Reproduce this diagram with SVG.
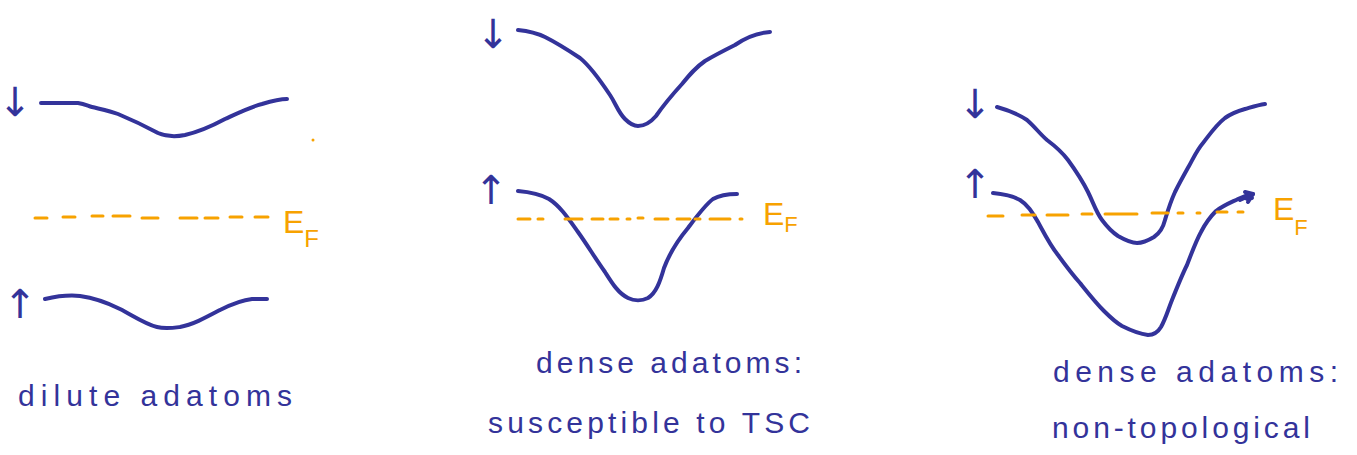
<svg xmlns="http://www.w3.org/2000/svg" width="1357" height="455" viewBox="0 0 1357 455">
<style>
.band{fill:none;stroke:#33339a;stroke-width:4;stroke-linecap:round;stroke-linejoin:round}
.ef{fill:none;stroke:#f7a200;stroke-width:3;stroke-linecap:round}
.eft{font-family:"Liberation Sans",Arial,sans-serif;fill:#f7a200;font-size:32px}
.spin{font-family:"DejaVu Sans",sans-serif;fill:#33339a;font-size:40px;text-anchor:middle}
.lbl{font-family:"Liberation Sans",Arial,sans-serif;fill:#33339a;font-size:30px}
</style>
<rect width="1357" height="455" fill="#fff"/>
<g id="panel-dilute">
<text class="spin" x="15" y="116">↓</text>
<path class="band" d="M41,103 L78,103 C85,104 88,106 92,107 C100,109 110,111 118,114 C130,119 145,126 158,133 C165,136 175,137 185,135 C198,132 212,126 225,119 C238,113 250,107 262,104 C272,101 280,99 287,99"/>
<circle cx="313" cy="140" r="1.5" fill="#f7a200"/>
<path class="ef" d="M35,218 L47,218 M63,217 L75,217 M92,216 L103,216 M113,216 L130,216 M142,218 L158,218 M180,218 L197,218 M205,218 L218,218 M230,217 L242,217 M255,217 L268,217"/>
<text class="eft" x="283" y="233">E<tspan font-size="24" dy="14">F</tspan></text>
<text class="spin" x="20" y="318">↑</text>
<path class="band" d="M45,299 C58,296 70,295 80,296 C95,298 108,303 120,309 C132,315 145,324 157,327 C165,329 172,328 180,327 C192,325 205,318 220,310 C232,304 242,300 252,299 L267,299"/>
<text class="lbl" x="18" y="406" textLength="274" lengthAdjust="spacing">dilute adatoms</text>
</g>
<g id="panel-tsc">
<text class="spin" x="493" y="48">↓</text>
<path class="band" d="M518,30 C528,31 537,33 545,37 C555,42 568,50 580,58 C590,66 600,80 610,95 C616,104 618,112 625,119 C630,124 634,126 638,126 C645,126 650,123 656,116 C665,103 672,95 682,84 C690,74 695,68 705,61 C715,55 725,50 735,45 C745,38 755,33 770,32"/>
<text class="spin" x="491" y="204">↑</text>
<path class="band" d="M518,191 C530,192 540,194 549,199 C560,206 568,218 578,232 C588,246 595,258 605,272 C612,283 618,293 628,298 C634,301 642,301 648,298 C656,293 660,282 664,268 C670,252 678,240 688,228 C697,216 705,205 713,199 C720,195 728,194 737,194"/>
<path class="ef" d="M518,219 L530,219 M538,219 L543,219 M565,219 L582,219 M592,219 L603,219 M610,219 L618,219 M627,219 L630,219 M638,218 L643,218 M655,219 L668,219 M677,219 L690,219 M695,219 L700,219 M710,219 L730,219 M740,219 L742,219"/>
<text class="eft" x="763" y="225">E<tspan font-size="22" dy="7">F</tspan></text>
<text class="lbl" x="536" y="373" textLength="266" lengthAdjust="spacing">dense adatoms:</text>
<text class="lbl" x="488" y="433" textLength="322" lengthAdjust="spacing">susceptible to TSC</text>
</g>
<g id="panel-nontop">
<text class="spin" x="975" y="118">↓</text>
<path class="band" d="M997,107 C1008,110 1018,114 1027,120 C1035,127 1040,134 1047,140 C1055,146 1062,152 1068,160 C1076,171 1082,180 1088,192 C1093,202 1096,212 1102,220 C1108,228 1112,232 1118,236 C1125,240 1131,243 1137,243 C1144,243 1149,240 1154,237 C1160,233 1163,228 1165,220 C1168,210 1170,203 1175,192 C1180,182 1184,175 1189,166 C1194,157 1197,150 1203,143 C1210,134 1216,125 1225,118 C1232,113 1238,111 1245,109 C1252,107 1258,105 1265,104"/>
<text class="spin" x="975" y="198">↑</text>
<path class="band" d="M993,193 C1003,194 1013,196 1020,200 C1028,205 1032,212 1038,222 C1044,233 1050,245 1058,255 C1066,266 1072,274 1080,283 C1088,293 1095,302 1104,311 C1110,317 1115,322 1122,326 C1130,330 1140,334 1148,335 C1154,335 1158,332 1161,327 C1166,318 1168,310 1172,300 C1178,285 1182,275 1187,265 C1192,252 1196,241 1201,232 C1206,222 1210,217 1216,211 C1224,205 1232,202 1238,199 C1244,196 1248,195 1253,194"/>
<path class="band" d="M1240,200 L1253,194 L1247,199 L1252,198 M1245,192 L1253,194 L1248,202" stroke-width="3"/>
<path class="ef" d="M988,216 L1003,216 M1022,215 L1035,215 M1047,215 L1068,215 M1082,214 L1092,214 M1105,214 L1137,214 M1152,213 L1168,213 M1178,213 L1183,213 M1197,213 L1200,213 M1217,212 L1227,212 M1238,212 L1243,212"/>
<text class="eft" x="1273" y="220">E<tspan font-size="22" dy="15">F</tspan></text>
<text class="lbl" x="1053" y="382" textLength="285" lengthAdjust="spacing">dense adatoms:</text>
<text class="lbl" x="1052" y="438" textLength="258" lengthAdjust="spacing">non-topological</text>
</g>
</svg>
